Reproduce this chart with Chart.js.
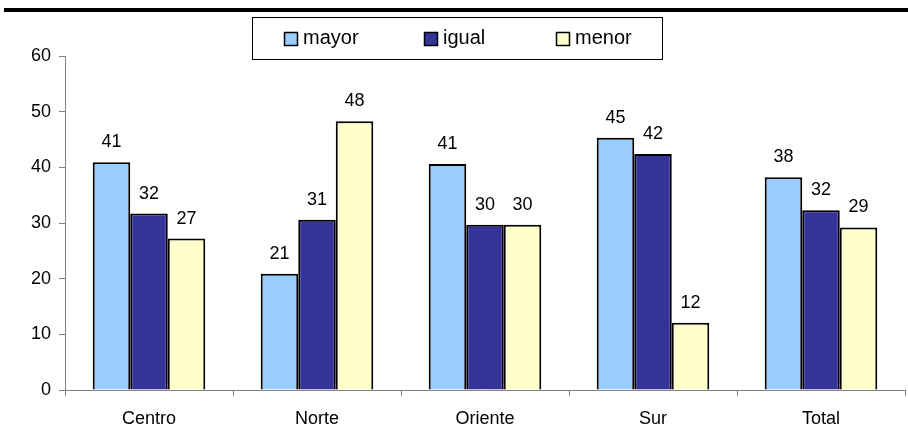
<!DOCTYPE html>
<html>
<head>
<meta charset="utf-8">
<script src="https://cdn.jsdelivr.net/npm/chart.js@4"></script>
<style>
  html,body{margin:0;padding:0;background:#fff;}
  #wrap{width:908px;height:436px;position:relative;}
</style>
</head>
<body>
<div id="wrap"><canvas id="chart" width="908" height="436"></canvas></div>
<script>
var categories = ['Centro', 'Norte', 'Oriente', 'Sur', 'Total'];
var mayor = [40.9, 20.9, 40.6, 45.3, 38.2];
var igual = [31.7, 30.6, 29.7, 42.4, 32.3];
var menor = [27.2, 48.3, 29.7, 12.1, 29.2];
var yTicks = [0, 10, 20, 30, 40, 50, 60];

var FONT = 'Arial, "Liberation Sans", sans-serif';

// top rule + framed legend, drawn by hand like the original sheet
var frame = {
  id: 'frame',
  afterDraw: function(chart) {
    var ctx = chart.ctx;
    ctx.save();
    ctx.fillStyle = '#000';
    ctx.fillRect(4, 8, 904, 4);

    ctx.strokeStyle = '#000';
    ctx.lineWidth = 1;
    ctx.strokeRect(252.5, 17.5, 410, 42);

    var xs = [284, 424, 556];
    ctx.font = '20px ' + FONT;
    ctx.textBaseline = 'middle';
    ctx.textAlign = 'left';
    chart.data.datasets.forEach(function(ds, i) {
      ctx.fillStyle = ds.backgroundColor;
      ctx.fillRect(xs[i], 32, 13, 13);
      ctx.lineWidth = 1.5;
      ctx.strokeStyle = '#000';
      ctx.strokeRect(xs[i] + 0.5, 32.5, 13, 13);
      ctx.fillStyle = '#000';
      ctx.fillText(ds.label, xs[i] + 19, 38);
    });
    ctx.restore();
  }
};

var valueLabels = {
  id: 'valueLabels',
  afterDatasetsDraw: function(chart) {
    var ctx = chart.ctx;
    ctx.save();
    ctx.font = '18px ' + FONT;
    ctx.fillStyle = '#000';
    ctx.textAlign = 'center';
    ctx.textBaseline = 'alphabetic';
    chart.data.datasets.forEach(function(ds, i) {
      chart.getDatasetMeta(i).data.forEach(function(bar, j) {
        ctx.fillText(Math.round(ds.data[j]), bar.x, bar.y - 15);
      });
    });
    ctx.restore();
  }
};

new Chart(document.getElementById('chart'), {
  type: 'bar',
  data: {
    labels: categories,
    datasets: [
      {label: 'mayor', data: mayor, backgroundColor: '#99ccff', borderColor: '#000', borderWidth: 2, borderSkipped: 'bottom'},
      {label: 'igual', data: igual, backgroundColor: '#333399', borderColor: '#000', borderWidth: 2, borderSkipped: 'bottom'},
      {label: 'menor', data: menor, backgroundColor: '#ffffcc', borderColor: '#000', borderWidth: 2, borderSkipped: 'bottom'}
    ]
  },
  options: {
    responsive: false,
    animation: false,
    layout: {padding: {top: 56, right: 3, left: 0, bottom: 0}},
    categoryPercentage: 0.67,
    barPercentage: 1.0,
    plugins: {
      legend: {display: false},
      tooltip: {enabled: false},
      title: {display: false}
    },
    scales: {
      x: {
        offset: true,
        grid: {offset: true, drawOnChartArea: false, drawTicks: true, tickLength: 6, color: '#808080'},
        border: {color: '#808080', width: 1},
        ticks: {color: '#000', font: {family: FONT, size: 18}, padding: 12},
        afterFit: function(s) { s.height = 46; }
      },
      y: {
        min: 0,
        max: 60,
        afterBuildTicks: function(s) { s.ticks = yTicks.map(function(v) { return {value: v}; }); },
        grid: {drawOnChartArea: false, drawTicks: true, tickLength: 6, color: '#808080'},
        border: {color: '#808080', width: 1},
        ticks: {color: '#000', font: {family: FONT, size: 18}, padding: 8},
        afterFit: function(s) { s.width = 65; }
      }
    }
  },
  plugins: [frame, valueLabels]
});
</script>
</body>
</html>
